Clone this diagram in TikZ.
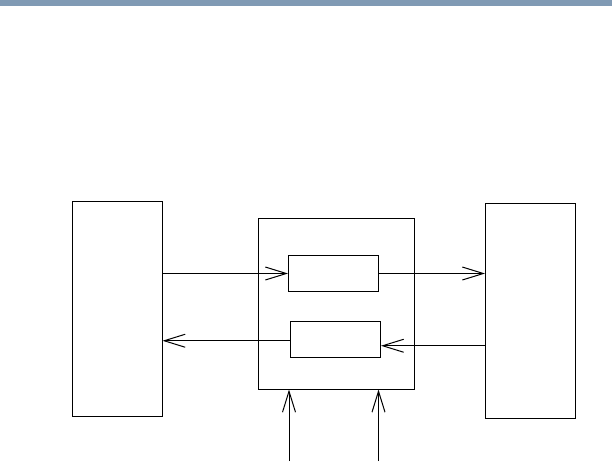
\documentclass[tikz,border=0pt]{standalone}
\usepackage{tikz}
\usetikzlibrary{arrows.meta}
\usetikzlibrary{positioning}
\definecolor{barblue}{RGB}{128,154,180}

\begin{document}
\begin{tikzpicture}[x=1pt, y=-1pt, line width=1pt,
    >={Straight Barb[length=21pt, width=13pt, line width=1pt]},
    box/.style={draw, minimum width=#1, inner sep=0pt}]
  \useasboundingbox (0,0) rectangle (612,461);
  % ===== top bar =====
  \fill[barblue] (0,0) rectangle (612,6);

  % ===== outer blocks =====
  \node[box=90pt, minimum height=214.5pt] (leftblk) at (117,308.75) {};
  \node[box=90pt, minimum height=214.5pt] (rightblk) at (530.5,310.75) {};
  \node[box=156pt, minimum height=171pt] (midblk) at (336.5,303.5) {};

  % inner blocks
  \node[box=90pt, minimum height=36pt] (upblk) at (333.5,273.5) {};
  \node[box=90pt, minimum height=35.5pt] (lowblk) at (335.5,339.25) {};

  % ===== connectors =====
  \coordinate (backin) at ([yshift=-6.5pt]lowblk.east);
  \coordinate (backout) at ([yshift=-1.5pt]lowblk.west);
  \draw[->] (leftblk.east |- upblk.west) -- (upblk.west);
  \draw[->] (upblk.east) -- (rightblk.west |- upblk.east);
  \draw[->] (rightblk.west |- backin) -- (backin);
  \draw[->] (backout) -- (leftblk.east |- backout);

  % inputs from below
  \coordinate (inA) at (289,461);
  \coordinate (inB) at (378.5,461);
  \draw[->] (inA) -- (inA |- midblk.south);
  \draw[->] (inB) -- (inB |- midblk.south);
\end{tikzpicture}
\end{document}
